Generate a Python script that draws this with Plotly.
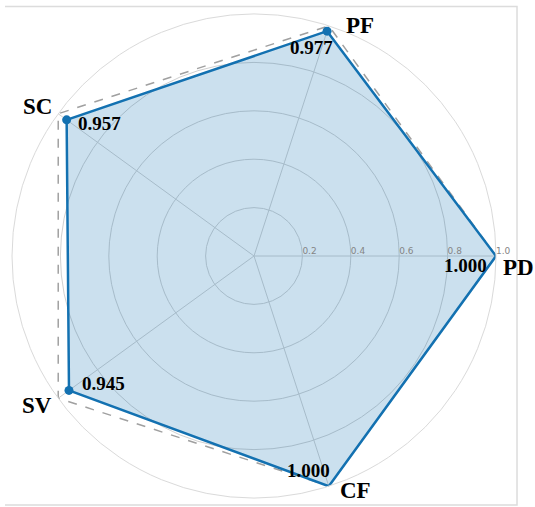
import math
import plotly.graph_objects as go

categories = ["PD", "PF", "SC", "SV", "CF"]
angles = [0, 72, 144, 216, 288]
values = [1.000, 0.977, 0.957, 0.945, 1.000]
reference = [1.0, 1.0, 1.0, 1.0, 1.0]
value_labels = ["1.000", "0.977", "0.957", "0.945", "1.000"]
tick_vals = [0.2, 0.4, 0.6, 0.8, 1.0]
tick_text = ["0.2", "0.4", "0.6", "0.8", "1.0"]

# pixel offsets (screen x, screen y up) of the labels relative to their vertex
value_shift = [(-31, -9), (-16, -16), (33, -4), (35, 7), (-20, 16)]
cat_shift = [(22, -11), (31, 0), (-21, 7), (-21, -7), (27, -4)]

LINE = "#1371b1"

fig = go.Figure()

fig.add_trace(go.Scatterpolar(
    r=reference + reference[:1], theta=angles + angles[:1],
    mode="lines", line=dict(color="#a0a0a0", width=1.5, dash="dash"),
    hoverinfo="skip", showlegend=False))

fig.add_trace(go.Scatterpolar(
    r=values + values[:1], theta=angles + angles[:1],
    mode="lines", fill="toself",
    fillcolor="rgba(31,119,180,0.23)",
    line=dict(color=LINE, width=2.5),
    showlegend=False))

# markers on points at the outer edge are clipped away in the reference
inner_r = [v for v in values if v < 1]
inner_t = [t for v, t in zip(values, angles) if v < 1]
fig.add_trace(go.Scatterpolar(
    r=inner_r, theta=inner_t, mode="markers",
    marker=dict(color=LINE, size=9), showlegend=False))

annotations = []
for cat, ang, val, lab, vs, cs in zip(categories, angles, values, value_labels,
                                      value_shift, cat_shift):
    a = math.radians(ang)
    annotations.append(dict(
        x=0.5 + 0.5 * val * math.cos(a), y=0.5 + 0.5 * val * math.sin(a),
        xref="paper", yref="paper", text=lab, showarrow=False,
        xanchor="center", yanchor="middle", xshift=vs[0], yshift=vs[1],
        font=dict(family="Liberation Serif", size=19, color="black", weight="bold")))
    annotations.append(dict(
        x=0.5 + 0.5 * math.cos(a), y=0.5 + 0.5 * math.sin(a),
        xref="paper", yref="paper", text=cat, showarrow=False,
        xanchor="center", yanchor="middle", xshift=cs[0], yshift=cs[1],
        font=dict(family="Liberation Serif", size=23, color="black", weight="bold")))

fig.update_layout(
    width=535, height=507,
    margin=dict(l=12, r=39, t=14, b=9, autoexpand=False),
    paper_bgcolor="white",
    polar=dict(
        domain=dict(x=[0, 1], y=[0, 1]),
        bgcolor="white",
        radialaxis=dict(range=[0, 1], tickvals=tick_vals,
                        ticktext=["\u00a0" * 5 + t for t in tick_text],
                        angle=0, side="counterclockwise",
                        tickfont=dict(family="DejaVu Sans", size=9, color="#858585"),
                        showline=False, ticks="", gridcolor="#d0d0d0", gridwidth=1),
        angularaxis=dict(tickvals=angles, ticktext=[""] * len(angles),
                         direction="counterclockwise", rotation=0,
                         showticklabels=False, ticks="",
                         gridcolor="#d0d0d0", gridwidth=1,
                         linecolor="#dadada", linewidth=1),
    ),
    annotations=annotations,
    shapes=[
        dict(type="path", xref="paper", yref="paper",
             path="M -0.0145 1.0155 L 1.0434 1.0155 L 1.0434 -0.0145 L -0.0145 -0.0145",
             line=dict(color="#dcdcdc", width=1.5)),
    ],
)

fig.write_html("out.html", config={"displayModeBar": False},
               post_script="document.body.style.margin='0';document.body.style.overflow='hidden';")
